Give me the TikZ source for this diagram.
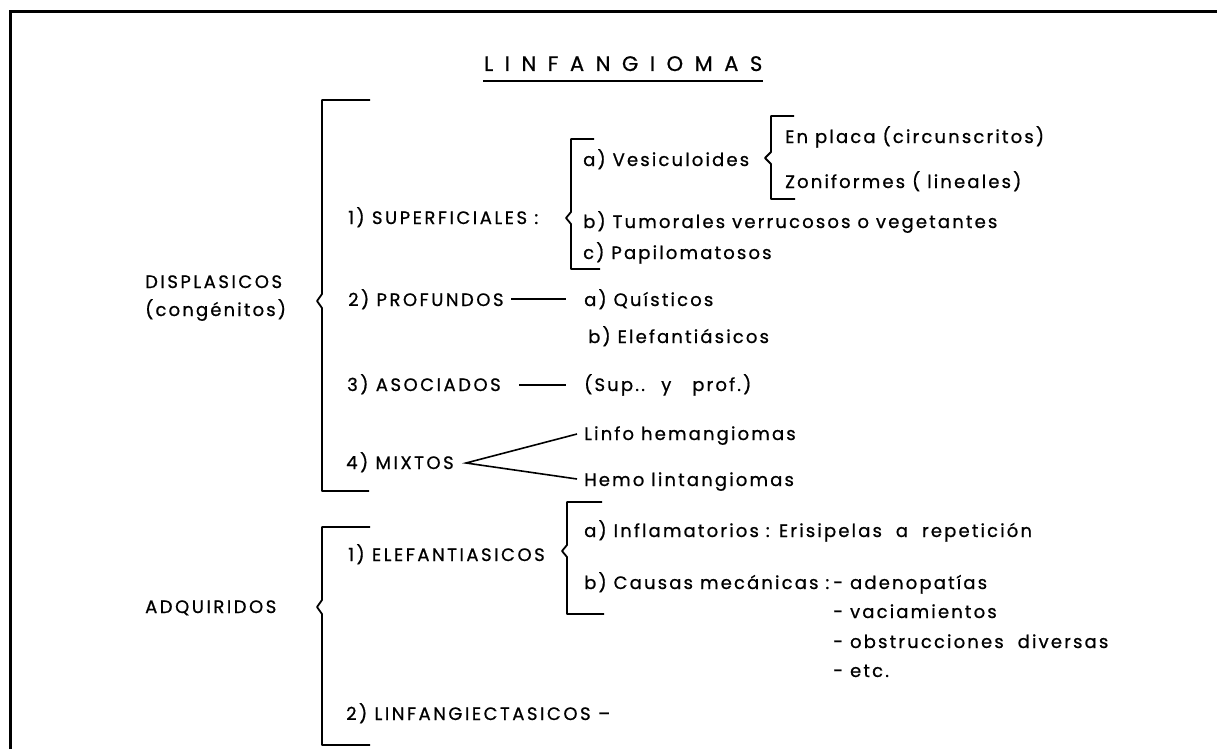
\documentclass[tikz,border=0pt]{standalone}
\usepackage{fontspec}
\setmainfont{Poppins}[LetterSpace=12,FakeBold=0.8]
\newfontfamily\capsfont{Poppins}[LetterSpace=14,FakeBold=0.8]
\newfontfamily\titlefont{Poppins}[LetterSpace=55,FakeBold=0.8]
\begin{document}
\begin{tikzpicture}[x=1pt,y=-1pt,
  txt/.style={anchor=base west, inner sep=0pt, font=\fontsize{18}{22}\selectfont},
  captxt/.style={anchor=base west, inner sep=0pt, font=\capsfont\fontsize{18}{22}\selectfont},
  br/.style={line width=1.8pt, line join=round},
  ln/.style={line width=1.6pt}]
\useasboundingbox (0,0) rectangle (1217,749);
\fill[white] (0,0) rectangle (1217,749);
\draw[line width=3pt] (10,749) -- (10,12) -- (1217,12);

% title
\node[anchor=base west, inner sep=0pt, font=\titlefont\fontsize{21}{24}\selectfont] (title) at (484,71) {LINFANGIOMAS};
\coordinate (u1) at (483,81);
\coordinate (u2) at (763,81);
\draw[line width=2.2pt] (u1) -- (u2);

% DISPLASICOS
\node[captxt] (disp) at (145,288) {DISPLASICOS};
\node[txt] (cong) at (145,316) {(congénitos)};
\draw[br] (370,100) -- (322,100) -- (322,294) -- (317,301) -- (322,308) -- (322,491) -- (369,491);

\node[captxt] (sup) at (348,224) {1) SUPERFICIALES :};
\draw[br] (594,139) -- (571,139) -- (571,212) -- (566,218) -- (571,224) -- (571,269) -- (600,269);
\node[txt] (ves) at (583,166) {a) Vesiculoides};
\draw[br] (794,116) -- (771,116) -- (771,152) -- (765,158) -- (771,164) -- (771,199) -- (795,199);
\node[txt] (plac) at (785,143) {En placa (circunscritos)};
\node[txt] (zon) at (785,188) {Zoniformes ( lineales)};
\node[txt] (tum) at (583,228) {b) Tumorales verrucosos o vegetantes};
\node[txt] (pap) at (583,259) {c) Papilomatosos};

\node[captxt] (prof) at (348,306) {2) PROFUNDOS};
\node[txt] (quis) at (584,306) {a) Quísticos};
\node[txt] (elef) at (588,343) {b) Elefantiásicos};
\coordinate (p1) at (511,299);
\coordinate (p2) at (566,299);
\draw[ln] (p1) -- (p2);

\node[captxt] (aso) at (347,391) {3) ASOCIADOS};
\node[txt] (supprof) at (584,391) {(Sup.. \ y \ \ prof.)};
\coordinate (a1) at (519,385);
\coordinate (a2) at (566,385);
\draw[ln] (a1) -- (a2);

\node[captxt] (mix) at (346,469) {4) MIXTOS};
\node[txt] (linfo) at (584,440) {Linfo hemangiomas};
\node[txt] (hemo) at (584,486) {Hemo lintangiomas};
\coordinate (apex) at (466,463);
\coordinate (m1) at (577,434);
\coordinate (m2) at (577,479);
\draw[ln, line join=miter] (m1) -- (apex) -- (m2);

% ADQUIRIDOS
\node[captxt] (adq) at (145,613) {ADQUIRIDOS};
\draw[br] (370,527) -- (322,527) -- (322,600) -- (317,607) -- (322,614) -- (322,745) -- (370,745);

\node[captxt] (el) at (348,561) {1) ELEFANTIASICOS};
\draw[br] (602,502) -- (567,502) -- (567,545) -- (562,551) -- (567,557) -- (567,614) -- (604,614);
\node[txt] (infl) at (584,537) {a) Inflamatorios : Erisipelas \ a \ repetición};
\node[txt] (caus) at (584,589) {b) Causas mecánicas :};
\node[txt] (aden) at (833,589) {- adenopatías};
\node[txt] (vac) at (833,618) {- vaciamientos};
\node[txt] (obs) at (833,648) {- obstrucciones \ diversas};
\node[txt] (etc) at (833,677) {- etc.};

\node[captxt] (lect) at (346,720) {2) LINFANGIECTASICOS –};
\end{tikzpicture}
\end{document}
